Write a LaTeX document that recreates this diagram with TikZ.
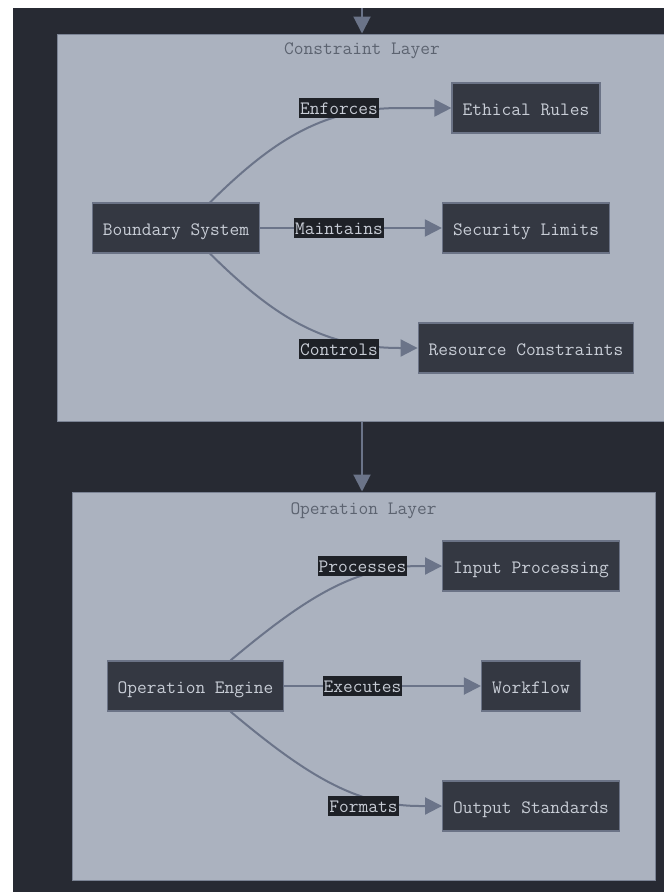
\documentclass[tikz,border=0pt]{standalone}
\usepackage{fontspec}
\usetikzlibrary{arrows.meta}
\definecolor{bgdark}{HTML}{272A33}
\definecolor{layerfill}{HTML}{ABB2BF}
\definecolor{layerline}{HTML}{7B8394}
\definecolor{nodefill}{HTML}{343842}
\definecolor{nodeline}{HTML}{6B7386}
\definecolor{nodetext}{HTML}{C8CDD6}
\definecolor{edgecol}{HTML}{6B7489}
\definecolor{labelbg}{HTML}{1E2127}
\definecolor{titletext}{HTML}{5C6370}
\begin{document}
\begin{tikzpicture}[x=1pt,y=-1pt,
  every node/.style={font=\ttfamily\fontsize{18.9}{22}\selectfont},
  layerbox/.style={draw=layerline, line width=1pt, fill=layerfill, inner sep=0pt},
  entity/.style={draw=nodeline, line width=1.2pt, fill=nodefill, text=nodetext,
    minimum height=50pt, inner xsep=10.5pt, inner ysep=0pt,
    text height=17pt, text depth=3pt},
  elabel/.style={fill=labelbg, text=nodetext, inner xsep=1pt, inner ysep=1.5pt,
    text height=15pt, text depth=2pt},
  flow/.style={draw=edgecol, line width=2pt, -{Triangle[length=17pt,width=17pt]}},
  title/.style={text=titletext, inner sep=0pt, text height=13pt, text depth=3pt}
]
% canvas
\path[use as bounding box, fill=white] (0,0) rectangle (664,892);
\fill[bgdark] (13,8) rectangle (664,892);

% layers
\node[layerbox, minimum width=610pt, minimum height=387pt] (cl) at (362,227.5) {};
\node[title] (cltitle) at (362,49) {Constraint Layer};
\node[layerbox, minimum width=583pt, minimum height=388pt] (ol) at (363.5,686) {};
\node[title] (oltitle) at (363.5,509) {Operation Layer};

% entities
\node[entity] (bs) at (176,228) {Boundary System};
\node[entity, minimum width=148pt] (er) at (526,108) {Ethical Rules};
\node[entity] (sl) at (526,228) {Security Limits};
\node[entity] (rc) at (526,348) {Resource Constraints};

\node[entity] (oe) at (195.5,686) {Operation Engine};
\node[entity] (ip) at (531,566) {Input Processing};
\node[entity] (wf) at (531,686) {Workflow};
\node[entity] (os) at (531,806) {Output Standards};

% label positions
\coordinate (lenf) at (339,108);
\coordinate (lmai) at (339,228);
\coordinate (lcon) at (339,349);
\coordinate (lpro) at (362.5,566);
\coordinate (lexe) at (362.5,686);
\coordinate (lfor) at (363.5,806);
\coordinate (topin) at (362,8);

% connectors
\draw[flow] (topin) -- (cl.north);
\draw[flow] (cl.south) -- (cl.south |- ol.north);

\draw[flow] ([xshift=34pt]bs.north) .. controls (275,138) and (325,108) .. (400,108) -- (er.west);
\draw[flow] (bs.east) -- (sl.west);
\draw[flow] ([xshift=34pt]bs.south) .. controls (275,318) and (325,348) .. (400,348) -- (rc.west);

\draw[flow] ([xshift=35pt]oe.north) .. controls (305,598) and (355,566) .. (420,566) -- (ip.west);
\draw[flow] (oe.east) -- (wf.west);
\draw[flow] ([xshift=35pt]oe.south) .. controls (305,774) and (355,806) .. (420,806) -- (os.west);

% edge labels
\node[elabel] (enf) at (lenf) {Enforces};
\node[elabel] (mai) at (lmai) {Maintains};
\node[elabel] (con) at (lcon) {Controls};
\node[elabel] (pro) at (lpro) {Processes};
\node[elabel] (exe) at (lexe) {Executes};
\node[elabel] (for) at (lfor) {Formats};
\end{tikzpicture}
\end{document}
